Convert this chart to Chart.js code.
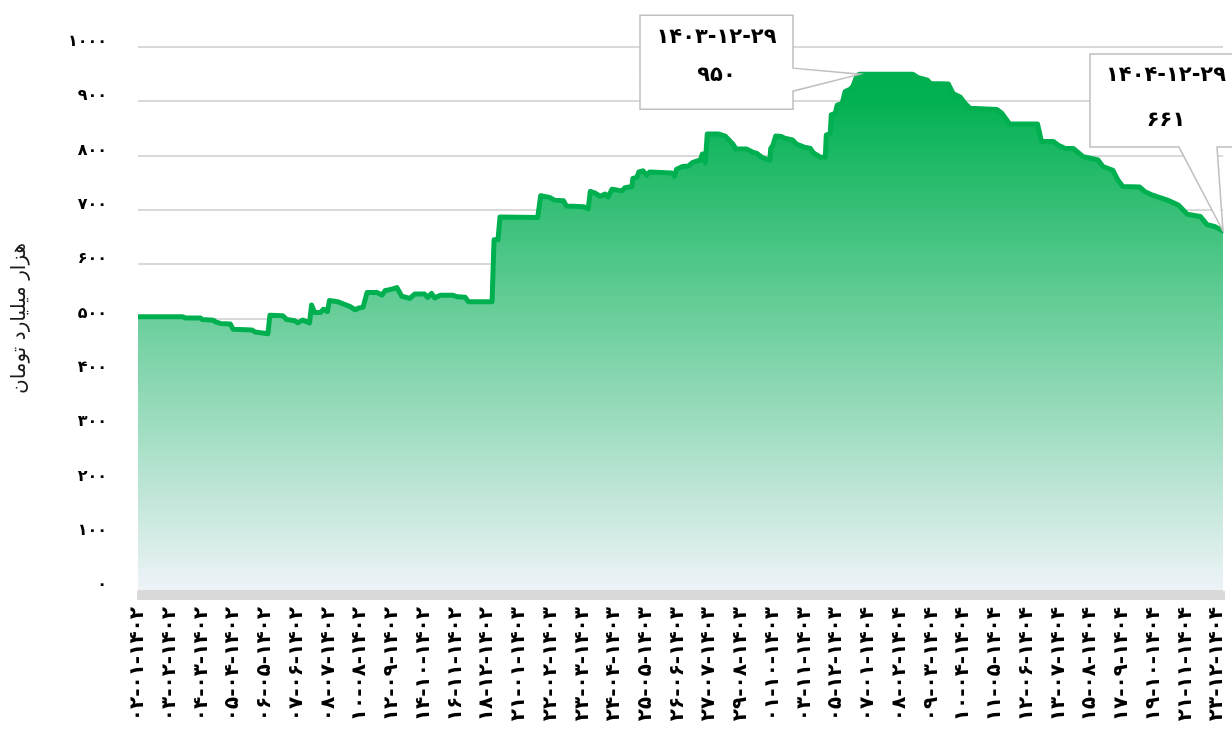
<!DOCTYPE html>
<html>
<head>
<meta charset="utf-8">
<script src="https://cdn.jsdelivr.net/npm/chart.js@4.4.1/dist/chart.umd.min.js"></script>
<style>
  html, body { margin: 0; padding: 0; background: #fff; }
  #wrap { width: 1232px; height: 730px; }
</style>
</head>
<body>
<div id="wrap"><canvas id="liquidityChart"></canvas></div>
<script>
// day = days counted from 1402-01-02, value = thousand billion toman
var day = [0, 45, 48, 63, 65, 76, 78, 83, 93, 96,
  115, 118, 131, 133, 146, 150, 158, 161, 166, 173,
  175, 178, 184, 187, 191, 193, 201, 214, 219, 222,
  227, 231, 241, 246, 249, 256, 261, 266, 274, 279,
  289, 292, 296, 299, 305, 317, 322, 330, 333, 357,
  359, 363, 365, 403, 406, 415, 420, 429, 432, 449,
  454, 456, 461, 466, 471, 474, 478, 488, 491, 498,
  499, 503, 505, 509, 513, 516, 538, 541, 543, 549,
  555, 559, 567, 569, 572, 574, 585, 592, 600, 603,
  614, 619, 624, 629, 634, 637, 638, 640, 643, 649,
  652, 660, 664, 671, 678, 681, 688, 693, 694, 698,
  699, 703, 705, 710, 713, 718, 721, 725, 728, 781,
  786, 796, 799, 817, 822, 829, 834, 839, 866, 871,
  879, 907, 911, 923, 928, 935, 943, 953, 968, 973,
  983, 988, 993, 1010, 1015, 1023, 1038, 1049, 1058, 1071,
  1078, 1086, 1094];
var value = [503, 503, 501, 501, 498, 497, 494, 491, 490, 480,
  479, 475, 472, 506, 505, 498, 496, 492, 497, 492,
  525, 511, 511, 517, 513, 533, 531, 522, 516, 519,
  521, 548, 548, 543, 551, 554, 557, 541, 537, 545,
  545, 539, 546, 538, 543, 543, 540, 539, 531, 531,
  645, 645, 687, 686, 726, 723, 718, 717, 707, 706,
  702, 734, 731, 725, 729, 724, 738, 735, 741, 743,
  758, 760, 770, 772, 764, 770, 768, 762, 775, 780,
  781, 787, 792, 803, 787, 840, 840, 836, 821, 812,
  812, 807, 804, 797, 793, 792, 813, 818, 836, 835,
  832, 829, 821, 816, 813, 805, 797, 797, 838, 841,
  875, 878, 893, 896, 918, 922, 928, 948, 950, 950,
  944, 939, 933, 932, 914, 908, 896, 887, 885, 878,
  858, 858, 826, 826, 819, 813, 813, 798, 792, 780,
  773, 755, 743, 742, 734, 727, 718, 709, 692, 688,
  673, 669, 661];

var calloutDays = [728, 1094];      // 1403-12-29 and 1404-12-29
var yTitle = 'هزار میلیارد تومان';

// persian calendar used for the day axis
var startDate = [1402, 1, 2];
var monthDays = {
  1402: [31, 31, 31, 31, 31, 31, 30, 30, 30, 30, 30, 29],
  1403: [31, 31, 31, 31, 31, 31, 30, 30, 30, 30, 30, 30],
  1404: [31, 31, 31, 31, 31, 31, 30, 30, 30, 30, 30, 29]
};

function fa(n) {
  return String(n).replace(/\d/g, function (d) { return '۰۱۲۳۴۵۶۷۸۹'[d]; });
}
function pad(n) { return n < 10 ? '0' + n : '' + n; }

function dateOf(idx) {
  var y = startDate[0], m = startDate[1], d = startDate[2];
  for (var i = 0; i < idx; i++) {
    d++;
    if (d > monthDays[y][m - 1]) { d = 1; m++; }
    if (m > 12) { m = 1; y++; }
  }
  return [y, m, d];
}

var points = day.map(function (d, i) { return { x: d, y: value[i] }; });

// grey band under the plot
var axisBand = {
  id: 'axisBand',
  afterDraw: function (chart) {
    var a = chart.chartArea, c = chart.ctx;
    c.save();
    c.fillStyle = '#d9d9d9';
    c.fillRect(a.left - 1, a.bottom + 1, a.right - a.left + 3, 9);
    c.restore();
  }
};

// callout boxes, offsets relative to the pointed value
var calloutStyle = [
  { dx: -220, dy: -59, w: 153, h: 94, side: 'right', p1: -6, p2: 17, t1: 22, t2: 60 },
  { dx: -133, dy: -177, w: 152, h: 93, side: 'bottom', p1: -44, p2: -6, t1: 21, t2: 66 }
];

var callouts = {
  id: 'callouts',
  afterDraw: function (chart) {
    var c = chart.ctx, xs = chart.scales.x, ys = chart.scales.y;
    calloutDays.forEach(function (d, k) {
      var v = value[day.indexOf(d)];
      var px = xs.getPixelForValue(d), py = ys.getPixelForValue(v);
      var s = calloutStyle[k];
      var L = px + s.dx, T = py + s.dy, R = L + s.w, B = T + s.h;
      c.save();
      c.beginPath();
      c.moveTo(L, T);
      c.lineTo(R, T);
      if (s.side === 'right') {
        c.lineTo(R, py + s.p1);
        c.lineTo(px, py);
        c.lineTo(R, py + s.p2);
        c.lineTo(R, B);
        c.lineTo(L, B);
      } else {
        c.lineTo(R, B);
        c.lineTo(px + s.p2, B);
        c.lineTo(px, py);
        c.lineTo(px + s.p1, B);
        c.lineTo(L, B);
      }
      c.closePath();
      c.fillStyle = '#fff';
      c.fill();
      c.lineWidth = 1.5;
      c.strokeStyle = '#bfbfbf';
      c.stroke();
      var dt = dateOf(d);
      c.fillStyle = '#000';
      c.font = 'bold 21px "DejaVu Sans"';
      c.textAlign = 'center';
      c.textBaseline = 'middle';
      c.fillText(fa(dt[0]) + '-' + fa(pad(dt[1])) + '-' + fa(pad(dt[2])), (L + R) / 2, T + s.t1);
      c.fillText(fa(v), (L + R) / 2, T + s.t2);
      c.restore();
    });
  }
};

var ctx = document.getElementById('liquidityChart').getContext('2d');
new Chart(ctx, {
  type: 'line',
  data: {
    datasets: [{
      data: points,
      borderColor: '#00b050',
      borderWidth: 5,
      borderJoinStyle: 'round',
      borderCapStyle: 'round',
      pointRadius: 0,
      tension: 0,
      fill: 'origin',
      backgroundColor: function (context) {
        var a = context.chart.chartArea;
        if (!a) return 'rgba(0,176,80,0.5)';
        var g = context.chart.ctx.createLinearGradient(0, a.top, 0, a.bottom);
        g.addColorStop(0, '#00b050');
        g.addColorStop(0.1, '#02b152');
        g.addColorStop(1, '#eef3f8');
        return g;
      }
    }]
  },
  options: {
    responsive: true,
    maintainAspectRatio: false,
    animation: false,
    layout: { padding: { left: 6, right: 9, top: 47 } },
    plugins: { legend: { display: false }, tooltip: { enabled: false } },
    scales: {
      x: {
        type: 'linear',
        min: 0,
        max: 1094,
        grid: { display: false },
        border: { display: false },
        afterFit: function (s) { s.height = 140; s.paddingLeft = 0; s.paddingRight = 0; },
        ticks: {
          stepSize: 32,
          includeBounds: false,
          autoSkip: false,
          minRotation: 90,
          maxRotation: 90,
          padding: 9,
          color: '#000',
          font: { family: 'DejaVu Sans', size: 20, weight: 'bold' },
          callback: function (v) {
            var d = dateOf(v);
            return fa(pad(d[2])) + '-' + fa(pad(d[1])) + '-' + fa(d[0]);
          }
        }
      },
      y: {
        min: 0,
        max: 1000,
        afterFit: function (s) { s.width = 132; },
        grid: { color: '#d9d9d9', lineWidth: 2, drawTicks: false },
        border: { display: false },
        ticks: {
          stepSize: 100,
          padding: 31,
          labelOffset: -5,
          color: '#000',
          font: { family: 'DejaVu Sans', size: 16, weight: 'bold' },
          callback: function (v) { return fa(v); }
        },
        title: {
          display: true,
          text: yTitle,
          color: '#1a1a1a',
          font: { family: 'DejaVu Sans', size: 20 },
          padding: { top: 2, bottom: 0 }
        }
      }
    }
  },
  plugins: [axisBand, callouts]
});
</script>
</body>
</html>
